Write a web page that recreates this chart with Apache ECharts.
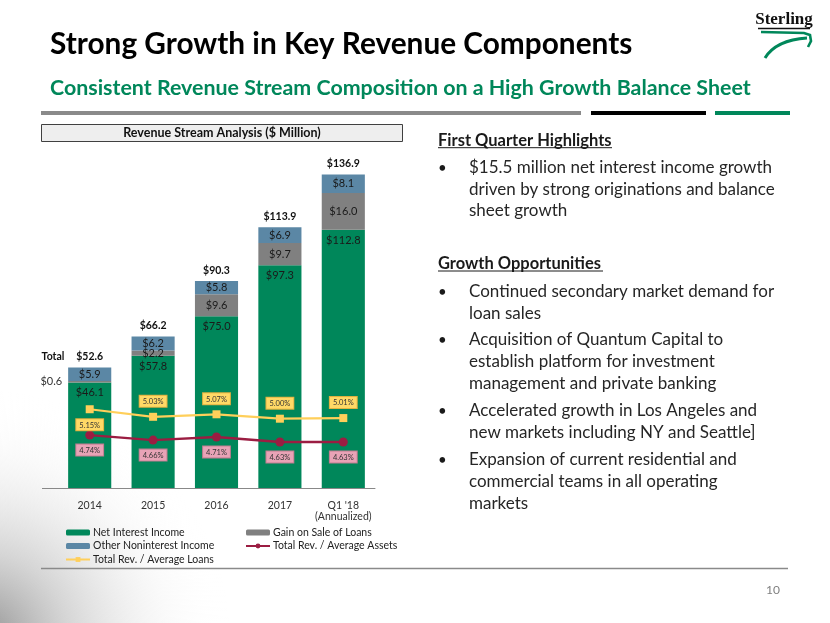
<!DOCTYPE html>
<html>
<head>
<meta charset="utf-8">
<script src="https://cdn.jsdelivr.net/npm/echarts@6/dist/echarts.min.js"></script>
<style>
html,body{margin:0;padding:0;background:#fff;}
#chart{width:830px;height:623px;}
</style>
</head>
<body>
<div id="chart"></div>
<script>
// ---- data ----
const categories = ['2014', '2015', '2016', '2017', "Q1 '18\n(Annualized)"];
const netInterestIncome = [46.1, 57.8, 75.0, 97.3, 112.8];
const gainOnSale = [0.6, 2.2, 9.6, 9.7, 16.0];
const otherNoninterest = [5.9, 6.2, 5.8, 6.9, 8.1];
const totals = [52.6, 66.2, 90.3, 113.9, 136.9];
const revAvgAssets = [4.74, 4.66, 4.71, 4.63, 4.63];
const revAvgLoans = [5.15, 5.03, 5.07, 5.00, 5.01];

const titleText = 'Strong Growth in Key Revenue Components';
const subtitleText = 'Consistent Revenue Stream Composition on a High Growth Balance Sheet';
const chartHeader = 'Revenue Stream Analysis ($ Million)';
const heading1 = 'First Quarter Highlights';
const bullets1 = [['$15.5 million net interest income growth', 'driven by strong originations and balance', 'sheet growth']];
const heading2 = 'Growth Opportunities';
const bullets2 = [
  ['Continued secondary market demand for', 'loan sales'],
  ['Acquisition of Quantum Capital to', 'establish platform for investment', 'management and private banking'],
  ['Accelerated growth in Los Angeles and', 'new markets including NY and Seattle]'],
  ['Expansion of current residential and', 'commercial teams in all operating', 'markets']
];

const FONT = 'Lato';
const GREEN = '#00875A';
const money = v => '$' + Number(v).toFixed(1);
const pct = v => Number(v).toFixed(2) + '%';

const graphics = [];
// background swoosh bottom-left
graphics.push({
  type: 'rect', z: -10, silent: true,
  shape: { x: 0, y: 380, width: 300, height: 243 },
  style: {
    fill: { type: 'radial', x: -20, y: 640, r: 250, global: true, colorStops: [
      { offset: 0, color: 'rgba(130,130,130,0.9)' },
      { offset: 0.35, color: 'rgba(185,185,185,0.6)' },
      { offset: 0.75, color: 'rgba(235,235,235,0.25)' },
      { offset: 1, color: 'rgba(255,255,255,0)' }] }
  }
});
// title + subtitle
graphics.push({ type: 'text', style: { text: titleText, x: 50, y: 44, verticalAlign: 'middle', fontFamily: FONT, fontWeight: 'bold', fontSize: 29.8, fill: '#000' } });
graphics.push({ type: 'text', style: { text: subtitleText, x: 50, y: 88, verticalAlign: 'middle', fontFamily: FONT, fontWeight: 'bold', fontSize: 21.4, fill: GREEN } });
// rule lines
graphics.push({ type: 'rect', shape: { x: 41, y: 111, width: 540, height: 4 }, style: { fill: '#8a8a8a' } });
graphics.push({ type: 'rect', shape: { x: 591, y: 111, width: 115, height: 4 }, style: { fill: '#000' } });
graphics.push({ type: 'rect', shape: { x: 715, y: 111, width: 75, height: 4 }, style: { fill: GREEN } });
// chart header box
graphics.push({ type: 'rect', shape: { x: 41.5, y: 124.5, width: 361, height: 17 }, style: { fill: '#eeeeee', stroke: '#404040', lineWidth: 1 } });
graphics.push({ type: 'text', style: { text: chartHeader, x: 222, y: 133, align: 'center', verticalAlign: 'middle', fontFamily: FONT, fontWeight: 'bold', fontSize: 12.5, fill: '#111' } });
// "Total" tag
graphics.push({ type: 'text', style: { text: 'Total', x: 53, y: 357, align: 'center', verticalAlign: 'middle', fontFamily: FONT, fontWeight: 'bold', fontSize: 10.5, fill: '#111' } });
// axis line extension to the left
graphics.push({ type: 'line', shape: { x1: 42, y1: 488.5, x2: 58, y2: 488.5 }, style: { stroke: '#888', lineWidth: 1 } });
// bottom line + page number
graphics.push({ type: 'line', shape: { x1: 41, y1: 568.5, x2: 788, y2: 568.5 }, style: { stroke: '#8a8a8a', lineWidth: 1.5 } });
graphics.push({ type: 'text', style: { text: '10', x: 773, y: 590, align: 'center', verticalAlign: 'middle', fontFamily: FONT, fontSize: 12, fill: '#7f7f7f' } });

// right text block
const BODY = 17;
function addHeading(txt, baseline, ulEnd) {
  graphics.push({ type: 'text', style: { text: txt, x: 438, y: baseline + 3, verticalAlign: 'bottom', fontFamily: FONT, fontWeight: 'bold', fontSize: 16.5, fill: '#1a1a1a' } });
  graphics.push({ type: 'line', shape: { x1: 438, y1: baseline + 2, x2: ulEnd, y2: baseline + 2 }, style: { stroke: '#1a1a1a', lineWidth: 1 } });
}
function addBullets(list, baselines) {
  let k = 0;
  list.forEach(lines => {
    lines.forEach((ln, j) => {
      const b = baselines[k++];
      if (j === 0) graphics.push({ type: 'text', style: { text: '\u2022', x: 438, y: b + 3, verticalAlign: 'bottom', fontFamily: FONT, fontSize: 15, fill: '#1a1a1a' } });
      graphics.push({ type: 'text', style: { text: ln, x: 469, y: b + 3.5, verticalAlign: 'bottom', fontFamily: FONT, fontSize: BODY, fill: '#262626' } });
    });
  });
}
addHeading(heading1, 145.7, 612);
addBullets(bullets1, [172.7, 194.3, 216]);
addHeading(heading2, 269, 603);
addBullets(bullets2, [296.7, 318.3, 345, 366.7, 388.3, 415.7, 437.3, 465, 486.7, 508.3]);

// logo
graphics.push({ type: 'text', style: { text: 'Sterling', x: 784, y: 20, align: 'center', verticalAlign: 'middle', fontFamily: 'Liberation Serif', fontWeight: 'bold', fontSize: 17, fill: '#111' } });
graphics.push({ type: 'line', shape: { x1: 758, y1: 28.5, x2: 810, y2: 28.5 }, style: { stroke: '#111', lineWidth: 1.5 } });
graphics.push({ type: 'polyline', shape: { points: [[761, 32], [804, 33], [810, 35], [811, 41], [808, 47]] }, style: { fill: 'none', stroke: GREEN, lineWidth: 2.6 } });
graphics.push({ type: 'bezierCurve', shape: { x1: 765, y1: 58, cpx1: 776, cpy1: 40, x2: 807, y2: 38 }, style: { fill: 'none', stroke: GREEN, lineWidth: 3 } });

const lblBase = { fontFamily: FONT, fontSize: 11, color: '#1a1a1a' };

const option = {
  animation: false,
  backgroundColor: 'transparent',
  textStyle: { fontFamily: FONT },
  grid: { left: 58, right: 455, top: 144.5, bottom: 135, containLabel: false },
  legend: [
    {
      orient: 'vertical', left: 60, top: 522, itemGap: 2.5, itemWidth: 24, itemHeight: 6,
      textStyle: { fontFamily: FONT, fontSize: 10.5, color: '#222', padding: [0, 0, 0, -2] },
      data: ['Net Interest Income', 'Other Noninterest Income', 'Total Rev. / Average Loans']
    },
    {
      orient: 'vertical', left: 240, top: 522, itemGap: 2.5, itemWidth: 24, itemHeight: 6,
      textStyle: { fontFamily: FONT, fontSize: 10.5, color: '#222', padding: [0, 0, 0, -2] },
      data: ['Gain on Sale of Loans', 'Total Rev. / Average Assets']
    }
  ],
  xAxis: {
    type: 'category', data: categories,
    axisTick: { show: false },
    axisLine: { lineStyle: { color: '#888', width: 1 } },
    axisLabel: { interval: 0, fontFamily: FONT, fontSize: 10.5, color: '#333', margin: 12, lineHeight: 11 }
  },
  yAxis: [
    { type: 'value', min: 0, max: 150, show: false, splitLine: { show: false } },
    { type: 'value', min: 3.9, max: 9.352, show: false, splitLine: { show: false } }
  ],
  series: [
    {
      name: 'Net Interest Income', type: 'bar', stack: 'rev', barWidth: '68%',
      itemStyle: { color: GREEN },
      label: { show: true, position: 'insideTop', distance: 5, formatter: p => money(p.value), ...lblBase },
      data: netInterestIncome
    },
    {
      name: 'Gain on Sale of Loans', type: 'bar', stack: 'rev',
      itemStyle: { color: '#808080' },
      label: { show: true, position: 'inside', formatter: p => money(p.value), ...lblBase },
      data: gainOnSale.map((v, i) => i === 0 ? { value: v, label: { position: 'left', distance: 6, color: '#333' } } : v)
    },
    {
      name: 'Other Noninterest Income', type: 'bar', stack: 'rev',
      itemStyle: { color: '#5B87A5' },
      label: { show: true, position: 'inside', formatter: p => money(p.value), ...lblBase },
      data: otherNoninterest
    },
    {
      name: 'Total', type: 'bar', barGap: '-100%', barWidth: '68%', z: 1,
      itemStyle: { color: 'rgba(0,0,0,0)' },
      label: { show: true, position: 'top', distance: 5, formatter: p => money(p.value), fontFamily: FONT, fontSize: 10.5, fontWeight: 'bold', color: '#111' },
      data: totals
    },
    {
      name: 'Total Rev. / Average Loans', type: 'line', yAxisIndex: 1, z: 5,
      symbol: 'rect', symbolSize: 8,
      lineStyle: { color: '#FFCF5A', width: 2.2 },
      itemStyle: { color: '#FFCF5A' },
      label: {
        show: true, position: 'top', distance: 6, formatter: p => pct(p.value),
        fontFamily: FONT, fontSize: 7.5, color: '#333',
        backgroundColor: '#FFD966', borderColor: '#E0B040', borderWidth: 1, padding: [2, 3, 1, 3]
      },
      data: revAvgLoans.map((v, i) => i === 0 ? { value: v, label: { position: 'bottom' } } : v)
    },
    {
      name: 'Total Rev. / Average Assets', type: 'line', yAxisIndex: 1, z: 5,
      symbol: 'circle', symbolSize: 9,
      lineStyle: { color: '#9B1D42', width: 2.4 },
      itemStyle: { color: '#9B1D42' },
      label: {
        show: true, position: 'bottom', distance: 5, formatter: p => pct(p.value),
        fontFamily: FONT, fontSize: 7.5, color: '#333',
        backgroundColor: '#E8A3B6', borderColor: '#C07C90', borderWidth: 1, padding: [2, 3, 1, 3]
      },
      data: revAvgAssets
    }
  ],
  graphic: graphics
};

const chart = echarts.init(document.getElementById('chart'), null, { renderer: 'canvas' });
chart.setOption(option);
</script>
</body>
</html>
